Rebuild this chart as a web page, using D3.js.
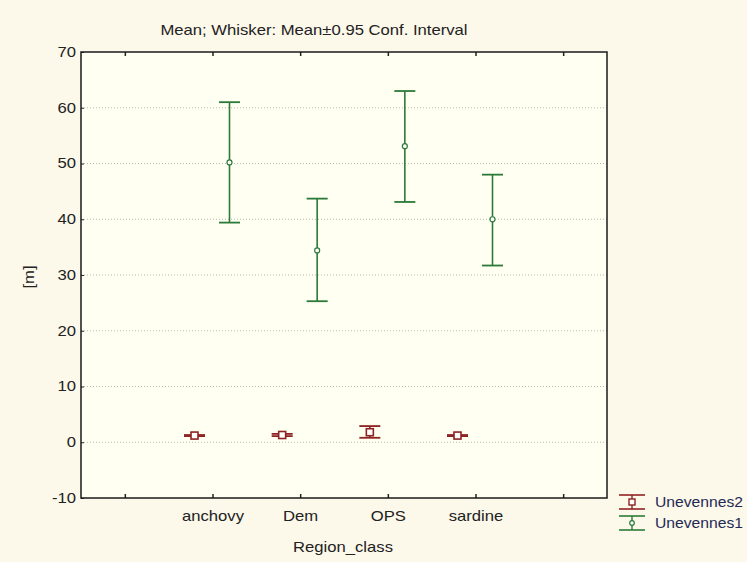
<!DOCTYPE html>
<html>
<head>
<meta charset="utf-8">
<script src="https://cdn.jsdelivr.net/npm/d3@7"></script>
<style>
  html, body { margin: 0; padding: 0; background: #fcf8ea; }
  svg { display: block; font-family: "Liberation Sans", Arial, sans-serif; }
</style>
</head>
<body>
<svg id="chart" width="747" height="562"></svg>
<script>
// Category slots along the x axis (blank slots pad each end)
const slots = ["_a", "anchovy", "Dem", "OPS", "sardine", "_b"];
const categories = ["anchovy", "Dem", "OPS", "sardine"];

// Unevennes2: mean with lower / upper 0.95 confidence limits
const u2Mean  = [1.2, 1.3, 1.8, 1.2];
const u2Lower = [1.1, 1.1, 0.8, 1.1];
const u2Upper = [1.3, 1.5, 2.9, 1.3];

// Unevennes1: mean with lower / upper 0.95 confidence limits
const u1Mean  = [50.2, 34.4, 53.1, 40.0];
const u1Lower = [39.4, 25.3, 43.1, 31.7];
const u1Upper = [61.0, 43.7, 63.0, 48.0];

const yTicks = [-10, 0, 10, 20, 30, 40, 50, 60, 70];

const series = [
  { name: "Unevennes2", mean: u2Mean, lower: u2Lower, upper: u2Upper, color: "#8e2323", marker: "square", offset: -18 },
  { name: "Unevennes1", mean: u1Mean, lower: u1Lower, upper: u1Upper, color: "#2b7a38", marker: "circle", offset: 17 }
];

// Text is drawn slightly wide, as in the exported chart style
const FS = 14, SX = 1.19;

const svg = d3.select("#chart");
const m = { left: 81, top: 52, right: 607, bottom: 498 };

const x = d3.scalePoint().domain(slots).range([m.left, m.right]).padding(0.5);
const y = d3.scaleLinear().domain([-10, 70]).range([m.bottom, m.top]);

// Plot area
svg.append("rect")
  .attr("x", m.left).attr("y", m.top)
  .attr("width", m.right - m.left).attr("height", m.bottom - m.top)
  .attr("fill", "#fffff2");

// Dotted grid lines
svg.append("g").selectAll("line")
  .data(yTicks.filter(d => d > -10 && d < 70))
  .join("line")
  .attr("x1", m.left).attr("x2", m.right)
  .attr("y1", d => y(d)).attr("y2", d => y(d))
  .attr("stroke", "#b8b8b8").attr("stroke-width", 1)
  .attr("stroke-dasharray", "1,2");

// Y axis (plain hyphen for negatives)
const yAxis = svg.append("g")
  .attr("transform", `translate(${m.left},0)`)
  .call(d3.axisLeft(y).tickValues(yTicks).tickSize(-3).tickPadding(4.2).tickFormat(d => String(d)));
yAxis.select(".domain").remove();
yAxis.selectAll("line").attr("stroke", "#222");
yAxis.selectAll("text").attr("font-size", FS).attr("fill", "#222")
  .attr("transform", `scale(${SX},1)`);

// X axis with inward ticks on bottom and top
const xAxis = svg.append("g")
  .attr("transform", `translate(0,${m.bottom})`)
  .call(d3.axisBottom(x).tickSize(-4).tickPadding(13).tickFormat(d => categories.includes(d) ? d : ""));
xAxis.select(".domain").remove();
xAxis.selectAll("line").attr("stroke", "#222").attr("stroke-width", 1.5);
xAxis.selectAll("text").attr("font-size", FS).attr("fill", "#222")
  .attr("transform", `scale(${SX},1)`);

const xTop = svg.append("g")
  .attr("transform", `translate(0,${m.top})`)
  .call(d3.axisTop(x).tickSize(-4).tickFormat(""));
xTop.select(".domain").remove();
xTop.selectAll("line").attr("stroke", "#222").attr("stroke-width", 1.5);

// Frame
svg.append("rect")
  .attr("x", m.left).attr("y", m.top)
  .attr("width", m.right - m.left).attr("height", m.bottom - m.top)
  .attr("fill", "none").attr("stroke", "#1a1a1a").attr("stroke-width", 1.5);

// Error bars
const capW = 21;
series.forEach(s => {
  const g = svg.append("g");
  categories.forEach((c, i) => {
    const cx = x(c) + s.offset;
    const yl = y(s.lower[i]), yu = y(s.upper[i]), ym = y(s.mean[i]);
    g.append("line").attr("x1", cx).attr("x2", cx).attr("y1", yu).attr("y2", yl)
      .attr("stroke", s.color).attr("stroke-width", 1.6);
    [yl, yu].forEach(yy => g.append("line")
      .attr("x1", cx - capW / 2).attr("x2", cx + capW / 2).attr("y1", yy).attr("y2", yy)
      .attr("stroke", s.color).attr("stroke-width", 1.8));
    if (s.marker === "square") {
      g.append("rect").attr("x", cx - 3.5).attr("y", ym - 3.5).attr("width", 7).attr("height", 7)
        .attr("fill", "#ffffff").attr("stroke", s.color).attr("stroke-width", 1.6);
    } else {
      g.append("circle").attr("cx", cx).attr("cy", ym).attr("r", 2.5)
        .attr("fill", "#ffffff").attr("stroke", s.color).attr("stroke-width", 1.2);
    }
  });
});

// Wide text helper
function wideText(px, py, anchor, str, extra) {
  return svg.append("text")
    .attr("transform", `translate(${px},${py}) ${extra || ""} scale(${SX},1)`)
    .attr("text-anchor", anchor).attr("font-size", FS).attr("fill", "#222").text(str);
}

// Title and axis titles
wideText(314, 35, "middle", "Mean; Whisker: Mean±0.95 Conf. Interval");
wideText(343, 552, "middle", "Region_class");
wideText(34, 277, "middle", "[m]", "rotate(-90)");

// Legend
const leg = svg.append("g");
series.forEach((s, i) => {
  const ly = 502 + i * 21;
  const lx = 632;
  leg.append("line").attr("x1", lx - 13).attr("x2", lx + 13).attr("y1", ly - 7).attr("y2", ly - 7)
    .attr("stroke", s.color).attr("stroke-width", 1.6);
  leg.append("line").attr("x1", lx - 13).attr("x2", lx + 13).attr("y1", ly + 7).attr("y2", ly + 7)
    .attr("stroke", s.color).attr("stroke-width", 1.6);
  leg.append("line").attr("x1", lx).attr("x2", lx).attr("y1", ly - 7).attr("y2", ly + 7)
    .attr("stroke", s.color).attr("stroke-width", 1.4);
  if (s.marker === "square") {
    leg.append("rect").attr("x", lx - 3).attr("y", ly - 3).attr("width", 6).attr("height", 6)
      .attr("fill", "#fff").attr("stroke", s.color).attr("stroke-width", 1.4);
  } else {
    leg.append("circle").attr("cx", lx).attr("cy", ly).attr("r", 2.3)
      .attr("fill", "#fff").attr("stroke", s.color).attr("stroke-width", 1.2);
  }
  leg.append("text").attr("transform", `translate(${lx + 23},${ly + 5}) scale(1.12,1)`)
    .attr("font-size", FS).attr("fill", "#1f2a55").text(s.name);
});
</script>
</body>
</html>
